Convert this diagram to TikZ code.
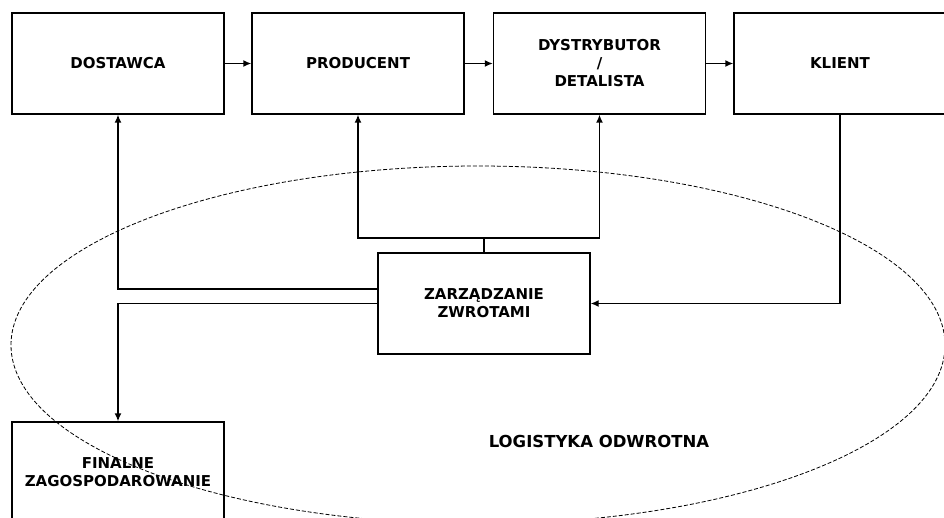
\documentclass[tikz,border=0pt]{standalone}
\usepackage{fontspec}
\setmainfont{DejaVu Sans}
\usetikzlibrary{arrows.meta}
\begin{document}
\begin{tikzpicture}[x=1pt,y=-1pt,
  box/.style={draw=black, line width=1.4pt, minimum width=212pt, minimum height=101pt,
    inner sep=0pt, align=center, font=\fontsize{15}{18}\selectfont\bfseries},
  conn/.style={draw=black, line width=1.4pt},
  arr/.style={conn, -{Latex[length=8pt,width=7pt]}},
  oval/.style={draw=black, line width=0.8pt, dash pattern=on 4pt off 2pt}]
\path[use as bounding box, clip] (0,0) rectangle (944,518);
\node[box] (dost) at (118,63.5) {DOSTAWCA};
\node[box] (prod) at (358,63.5) {PRODUCENT};
\node[box] (dys) at (599.5,63.5) {DYSTRYBUTOR\\/\\DETALISTA};
\node[box] (kl) at (840,63.5) {KLIENT};
\node[box] (z) at (484,303.5) {ZARZĄDZANIE\\ZWROTAMI};
\node[box] (fin) at (118,472.5) {FINALNE\\ZAGOSPODAROWANIE};
\node[font=\fontsize{16.5}{20}\selectfont\bfseries] (log) at (599,441) {LOGISTYKA ODWROTNA};
\draw[arr] (dost) -- (prod);
\draw[arr] (prod) -- (dys);
\draw[arr] (dys) -- (kl);
\coordinate (bar) at (484,238);
\draw[conn] (z.north) -- (bar);
\draw[arr] (bar) -| (prod.south);
\draw[arr] (bar) -| (dys.south);
\draw[arr] ([yshift=14.5pt]z.west) -| (dost.south);
\draw[arr] (z.west) -| (fin.north);
\draw[arr] (kl.south) |- (z.east);
\draw[oval] (478,345) ellipse [x radius=467pt, y radius=179pt];
\end{tikzpicture}
\end{document}
